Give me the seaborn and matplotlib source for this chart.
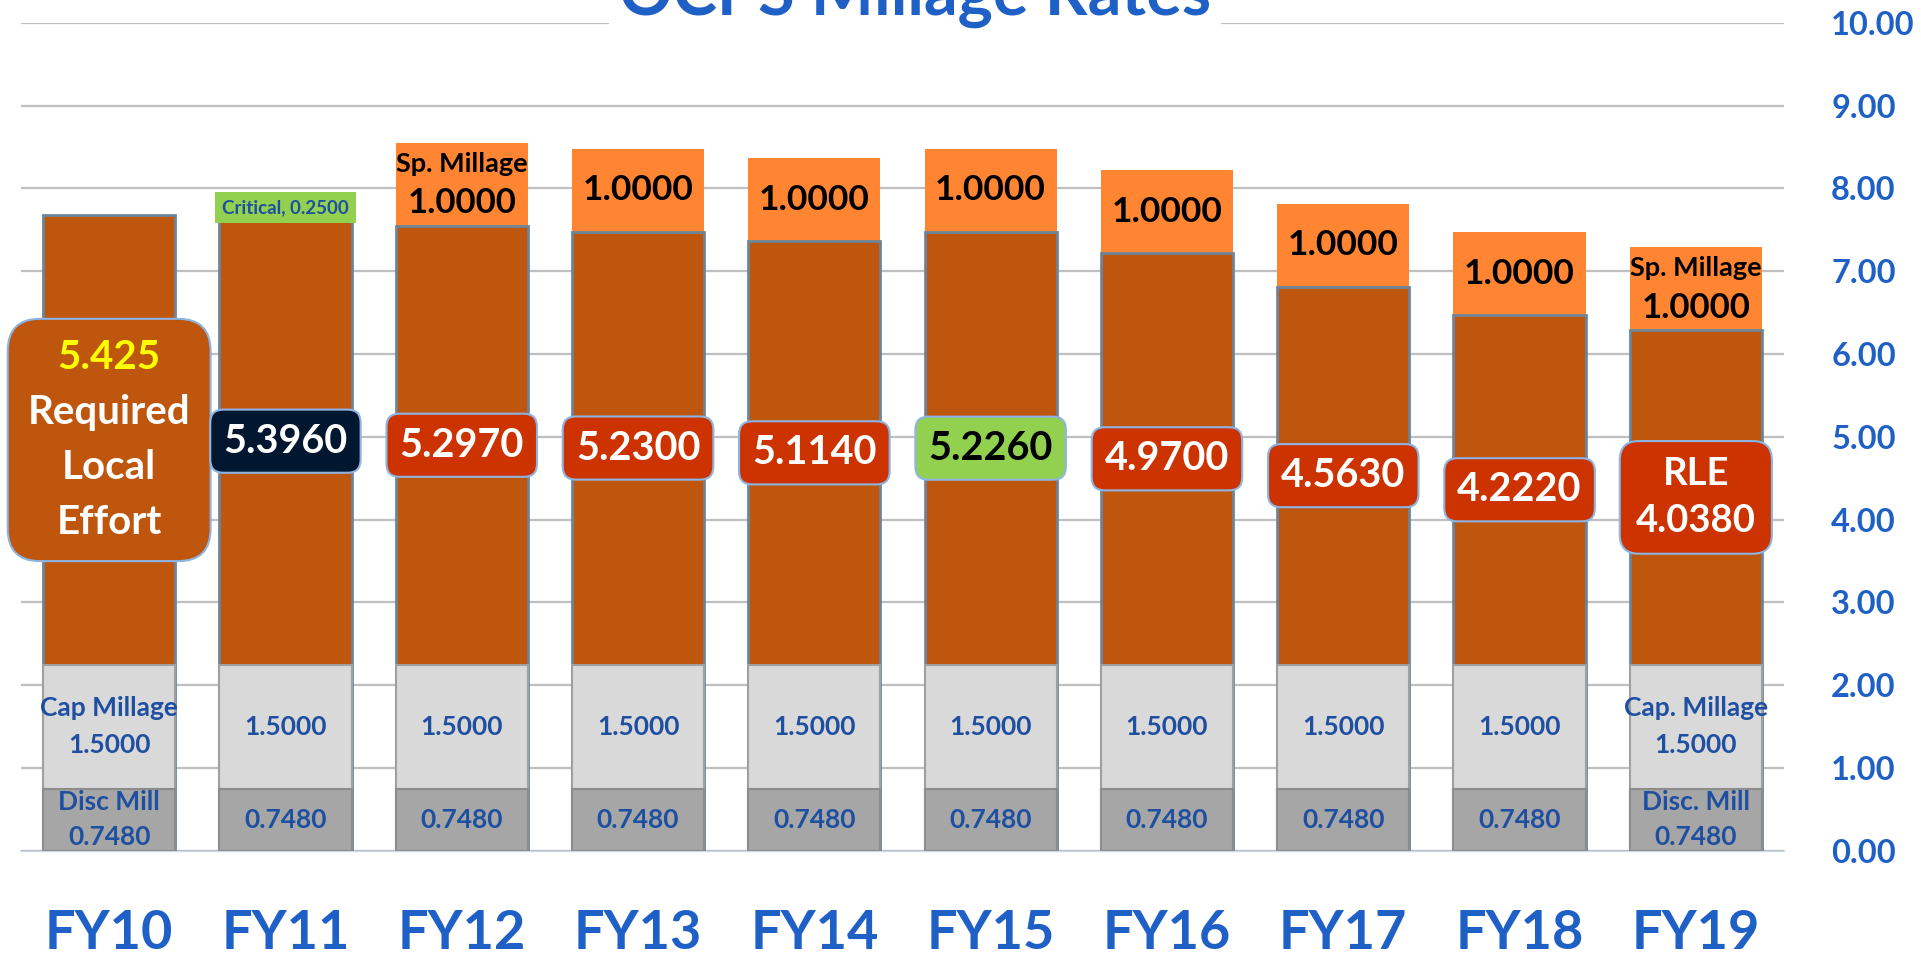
import matplotlib
matplotlib.use("Agg")
import matplotlib.pyplot as plt
import seaborn as sns
import pandas as pd

# ---------------- data ----------------
years = ["FY10", "FY11", "FY12", "FY13", "FY14", "FY15", "FY16", "FY17", "FY18", "FY19"]
disc_mill = [0.748] * 10
cap_millage = [1.5] * 10
rle = [5.425, 5.396, 5.297, 5.230, 5.114, 5.226, 4.970, 4.563, 4.222, 4.038]
sp_millage = [0, 0, 1, 1, 1, 1, 1, 1, 1, 1]
critical = [0, 0.25, 0, 0, 0, 0, 0, 0, 0, 0]

disc_labels = ["Disc Mill\n0.7480"] + ["0.7480"] * 8 + ["Disc. Mill\n0.7480"]
cap_labels = ["Cap Millage\n1.5000"] + ["1.5000"] * 8 + ["Cap. Millage\n1.5000"]
rle_labels = ["5.425\nRequired\nLocal\nEffort", "5.3960", "5.2970", "5.2300", "5.1140",
              "5.2260", "4.9700", "4.5630", "4.2220", "RLE\n4.0380"]
sp_labels = ["", "", "Sp. Millage\n1.0000", "1.0000", "1.0000", "1.0000", "1.0000",
             "1.0000", "1.0000", "Sp. Millage\n1.0000"]
crit_labels = ["", "Critical, 0.2500", "", "", "", "", "", "", "", ""]
title = "OCPS Millage Rates"
yticks = list(range(0, 11))

# ---------------- styles ----------------
BROWN = "#BF560E"
SLATE = "#6E8599"
ORANGE = "#FF8533"
GREEN = "#92D050"
LIGHT = "#D9D9D9"
DARK = "#A6A6A6"
NAVY = "#00172F"
RED = "#CC3300"
LBLUE = "#1F4FA0"
TBLUE = "#1F60C6"
BOXEDGE = "#8DB4E2"

sns.set_style("white")
plt.rcParams["font.family"] = ["Lato", "DejaVu Sans"]
plt.rcParams["font.weight"] = "bold"

df = pd.DataFrame({"year": years, "disc": disc_mill, "cap": cap_millage, "rle": rle,
                   "sp": sp_millage, "crit": critical})
df["cap_top"] = df["disc"] + df["cap"]
df["rle_top"] = df["cap_top"] + df["rle"]
df["top"] = df["rle_top"] + df["sp"] + df["crit"]

top_colors = []
for s, c in zip(sp_millage, critical):
    top_colors.append(GREEN if c > 0 else (ORANGE if s > 0 else BROWN))

fig = plt.figure(figsize=(19.21, 9.58), dpi=100)
W, H = 1921, 958
x0, x1, y_top, y_base = 21, 1784, 22.7, 850.7
ax = fig.add_axes([x0 / W, 1 - y_base / H, (x1 - x0) / W, (y_base - y_top) / H])

common = dict(data=df, x="year", width=0.75, errorbar=None, saturation=1, ax=ax)
sns.barplot(y="top", hue="year", palette=top_colors, legend=False, linewidth=0, **common)
sns.barplot(y="rle_top", color=BROWN, edgecolor=SLATE, linewidth=2.0, **common)
sns.barplot(y="cap_top", color=LIGHT, edgecolor="#A0A0A0", linewidth=1.5, **common)
sns.barplot(y="disc", color=DARK, edgecolor="#8C8C8C", linewidth=1.5, **common)

ax.set_xlim(-0.5, 9.5)
ax.set_ylim(0, 10)
ax.set_axisbelow(True)
ax.yaxis.grid(True, color="#BFBFBF", linewidth=1.6)
ax.xaxis.grid(False)
ax.axhline(0, color="#C6D9F1", linewidth=1.6, zorder=0.5, clip_on=False)
for sp in ax.spines.values():
    sp.set_visible(False)
ax.set_xlabel("")
ax.set_ylabel("")
ax.yaxis.tick_right()
ax.set_yticks(yticks)
ax.set_yticklabels([f"{v:.2f}" for v in yticks])
ax.tick_params(axis="y", length=0, pad=34, labelsize=23.5, labelcolor=TBLUE)
ax.tick_params(axis="x", length=0, pad=42, labelsize=39, labelcolor=TBLUE)

# ---------------- labels ----------------
for i in range(len(years)):
    d = disc_mill[i]
    ax.text(i, d / 2, disc_labels[i], ha="center", va="center", fontsize=19,
            color=LBLUE, linespacing=1.55, zorder=5)
    ax.text(i, d + cap_millage[i] / 2, cap_labels[i], ha="center", va="center",
            fontsize=19, color=LBLUE, linespacing=1.65, zorder=5)

    mid = df["cap_top"][i] + rle[i] / 2
    if i == 0:
        fc, tc, fs, bs = BROWN, "white", 29, "round,pad=0.5,rounding_size=0.8"
    elif i == 1:
        fc, tc, fs, bs = NAVY, "white", 28.5, "round,pad=0.33,rounding_size=0.33"
    elif i == 5:
        fc, tc, fs, bs = GREEN, "black", 28.5, "round,pad=0.33,rounding_size=0.33"
    else:
        fc, tc, fs, bs = RED, "white", 28.5, "round,pad=0.33,rounding_size=0.33"
    if i == 9:
        fs, bs = 27.5, "round,pad=0.42,rounding_size=0.5"
    lines = rle_labels[i].split("\n")
    if i == 0:
        body = " \n" + "\n".join(lines[1:])
        ax.text(i, mid, body, ha="center", va="center", fontsize=fs, color=tc,
                linespacing=1.6, zorder=6,
                bbox=dict(boxstyle=bs, fc=fc, ec=BOXEDGE, lw=1.5))
        ax.text(i, mid, lines[0] + "\n \n \n ", ha="center", va="center", fontsize=fs,
                color="#FFFF00", linespacing=1.6, zorder=7)
    else:
        ax.text(i, mid, rle_labels[i], ha="center", va="center", fontsize=fs, color=tc,
                linespacing=1.45, zorder=6,
                bbox=dict(boxstyle=bs, fc=fc, ec=BOXEDGE, lw=1.5))

    if sp_millage[i] > 0:
        smid = df["rle_top"][i] + sp_millage[i] / 2
        parts = sp_labels[i].split("\n")
        if len(parts) == 2:
            ax.annotate(parts[0], (i, smid), xytext=(0, 15), textcoords="offset points",
                        ha="center", va="center", fontsize=19.5, color="black", zorder=6)
            ax.annotate(parts[1], (i, smid), xytext=(0, -13.5), textcoords="offset points",
                        ha="center", va="center", fontsize=25, color="black", zorder=6)
        else:
            ax.text(i, smid, parts[0], ha="center", va="center", fontsize=25.5,
                    color="black", zorder=6)
    if critical[i] > 0:
        cmid = df["rle_top"][i] + critical[i] / 2
        ax.text(i, cmid, crit_labels[i], ha="center", va="center", fontsize=13.5,
                color=LBLUE, zorder=6,
                bbox=dict(boxstyle="square,pad=0.38", fc=GREEN, ec="none"))

fig.text(915 / W, 1 - 15 / H, title, ha="center", va="baseline", fontsize=48,
         color=TBLUE, fontweight="bold",
         bbox=dict(boxstyle="square,pad=0.15", fc="white", ec="none"))

fig.savefig("out.png", dpi=100)
